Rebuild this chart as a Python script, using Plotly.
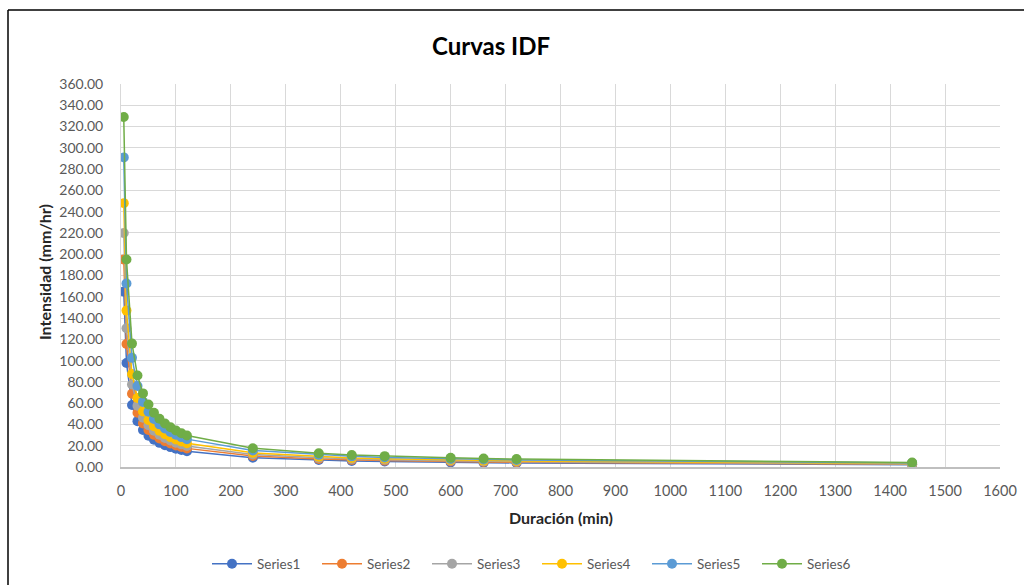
import plotly.graph_objects as go

duracion = [5, 10, 20, 30, 40, 50, 60, 70, 80, 90, 100, 110, 120, 240, 360, 420, 480, 600, 660, 720, 1440]

series1 = [165, 97.8, 58.2, 43.1, 34.7, 29.4, 25.6, 22.7, 20.5, 18.7, 17.2, 15.9, 14.8, 8.8, 6.5, 5.7, 5.1, 4.3, 4.0, 3.8, 2.2]
series2 = [195, 115.6, 68.8, 51.0, 41.0, 34.8, 30.2, 26.8, 24.2, 22.1, 20.3, 18.8, 17.5, 10.4, 7.6, 6.7, 6.0, 5.1, 4.7, 4.4, 2.5]
series3 = [220, 130.4, 77.6, 57.5, 46.3, 39.3, 34.1, 30.3, 27.3, 24.9, 22.9, 21.3, 19.8, 11.8, 8.6, 7.6, 6.8, 5.8, 5.3, 5.0, 2.9]
series4 = [248, 147.0, 87.4, 64.8, 52.2, 44.2, 38.4, 34.1, 30.8, 28.1, 25.9, 24.0, 22.3, 13.3, 9.7, 8.5, 7.7, 6.5, 6.0, 5.7, 3.2]
series5 = [291, 172.5, 102.6, 76.1, 61.2, 51.9, 45.1, 40.1, 36.2, 33.0, 30.3, 28.1, 26.2, 15.6, 11.4, 10.0, 9.0, 7.6, 7.1, 6.6, 3.8]
series6 = [329, 195, 116, 86, 69.2, 58.7, 51.0, 45.3, 40.9, 37.3, 34.3, 31.8, 29.6, 17.6, 12.9, 11.3, 10.2, 8.6, 8.0, 7.5, 4.3]

names = ["Series1", "Series2", "Series3", "Series4", "Series5", "Series6"]
colors = ["#4472C4", "#ED7D31", "#A5A5A5", "#FFC000", "#5B9BD5", "#70AD47"]
data = [series1, series2, series3, series4, series5, series6]

FONT = "Lato, Calibri, sans-serif"

fig = go.Figure()
for n, c, ys in zip(names, colors, data):
    fig.add_trace(go.Scatter(
        x=duracion, y=ys, name=n, mode="lines+markers",
        line=dict(color=c, width=1.5),
        marker=dict(color=c, size=10),
    ))

L, R, T, B = 121, 24, 84, 118
W, H = 1024, 585
pw = W - L - R
ph = H - T - B

fig.update_layout(
    width=W, height=H,
    margin=dict(l=L, r=R, t=T, b=B, autoexpand=False),
    paper_bgcolor="white", plot_bgcolor="white",
    font=dict(family=FONT, size=13, color="#595959"),
    title=dict(text="<b>Curvas IDF</b>", font=dict(size=24, color="#000000", family=FONT),
               xref="container", x=491 / W, xanchor="center",
               yref="container", y=1 - 47 / H, yanchor="middle"),
    showlegend=True,
    legend=dict(orientation="h", x=(537 - L) / pw, xanchor="center",
                y=(T + ph - 564) / ph, yanchor="middle",
                entrywidth=55, entrywidthmode="pixels",
                font=dict(size=13.5, color="#595959"), itemwidth=40),
    xaxis=dict(range=[0, 1600], tick0=0, dtick=100, showgrid=True,
               gridcolor="#d9d9d9", gridwidth=1, showline=True,
               linecolor="#bfbfbf", linewidth=1.5, zeroline=False,
               ticks="", ticklabelstandoff=10,
               tickfont=dict(size=14.5, color="#595959")),
    yaxis=dict(range=[0, 360], tick0=0, dtick=20, tickformat=".2f",
               showgrid=True, gridcolor="#d9d9d9", gridwidth=1,
               showline=True, linecolor="#d9d9d9", linewidth=1, zeroline=False,
               ticks="", ticklabelstandoff=14,
               tickfont=dict(size=14, color="#595959")),
    annotations=[
        dict(text="<b>Intensidad (mm/hr)</b>", xref="paper", yref="paper",
             x=(44 - L) / pw, y=(T + ph - 272) / ph, textangle=-90, showarrow=False,
             xanchor="center", yanchor="middle",
             font=dict(size=16, color="#262626", family=FONT)),
        dict(text="<b>Duración (min)</b>", xref="paper", yref="paper",
             x=(561 - L) / pw, y=(T + ph - 517) / ph, showarrow=False,
             xanchor="center", yanchor="middle",
             font=dict(size=16, color="#262626", family=FONT)),
    ],
    shapes=[
        dict(type="line", xref="paper", yref="paper",
             x0=(8 - L) / pw, x1=(W + 10 - L) / pw,
             y0=(T + ph - 10) / ph, y1=(T + ph - 10) / ph,
             line=dict(color="#000000", width=1.5)),
        dict(type="line", xref="paper", yref="paper",
             x0=(8 - L) / pw, x1=(8 - L) / pw,
             y0=(T + ph - 10) / ph, y1=(T + ph - H - 10) / ph,
             line=dict(color="#000000", width=1.5)),
    ],
)

fig.write_html("out.html")
